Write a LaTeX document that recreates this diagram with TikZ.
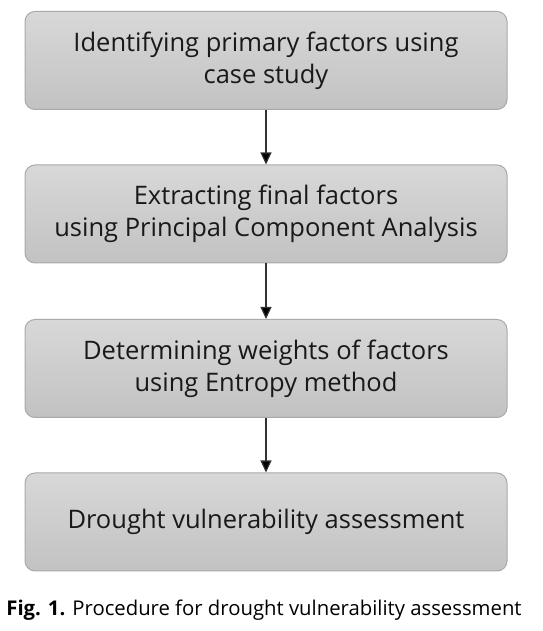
\documentclass[tikz,border=0pt]{standalone}
\usepackage{fontspec}
\setmainfont{Open Sans}
\usetikzlibrary{arrows.meta}
\definecolor{boxtop}{HTML}{D8D8D8}
\definecolor{boxbot}{HTML}{C2C2C2}
\definecolor{boxline}{HTML}{A9A9A9}
\tikzset{
  stepbox/.style={draw=boxline, line width=1pt, rounded corners=10pt,
    top color=boxtop, bottom color=boxbot,
    minimum width=482pt, minimum height=98pt, align=center,
    font=\fontsize{25.5}{32}\selectfont, text=black!90},
  flow/.style={draw=black!80, line width=1.2pt, -{Triangle[length=12pt,width=11pt,fill=black]}}
}
\begin{document}
\begin{tikzpicture}[x=1pt,y=1pt]
\useasboundingbox (0,0) rectangle (542,631);
\node[stepbox] (b1) at (266,631-60.5) {Identifying primary factors using\\case study};
\node[stepbox] (b2) at (266,631-214) {Extracting final factors\\using Principal Component Analysis};
\node[stepbox] (b3) at (266,631-368.5) {Determining weights of factors\\using Entropy method};
\node[stepbox] (b4) at (266,631-522) {Drought vulnerability assessment};
\draw[flow] (b1) -- (b2);
\draw[flow] (b2) -- (b3);
\draw[flow] (b3) -- (b4);
\node[anchor=center, font=\fontsize{20.3}{24}\selectfont] (cap) at (264,631-610) {\textbf{Fig. 1.} Procedure for drought vulnerability assessment};
\end{tikzpicture}
\end{document}
